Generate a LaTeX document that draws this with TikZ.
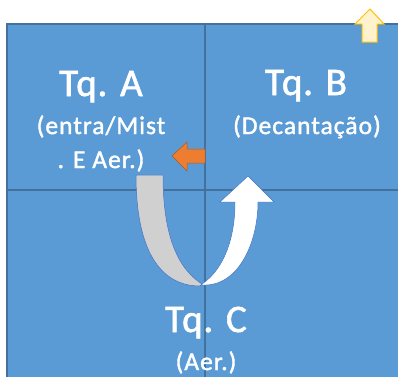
\documentclass[tikz,border=0pt]{standalone}
\usepackage{fontspec}
\setmainfont{Carlito}[FakeBold=1.5]
\usetikzlibrary{positioning}
\definecolor{tankblue}{RGB}{91,155,213}
\definecolor{tankline}{RGB}{65,113,156}
\definecolor{flowline}{RGB}{68,114,196}
\definecolor{orangearr}{RGB}{237,125,49}
\definecolor{orangeline}{RGB}{174,90,33}
\definecolor{yellowarr}{RGB}{255,242,204}
\definecolor{yellowline}{RGB}{255,192,0}
\definecolor{grayband}{RGB}{208,208,208}
\begin{document}
\begin{tikzpicture}[x=1pt, y=-1pt,
  cell/.style={draw=tankline, fill=tankblue, line width=1.3pt},
  title/.style={text=white, anchor=base, inner sep=0pt,
                font=\addfontfeature{LetterSpace=2}\fontsize{39}{44}\selectfont},
  sub/.style={text=white, anchor=base, inner sep=0pt, align=center,
              font=\addfontfeature{LetterSpace=4}\fontsize{25.5}{34}\selectfont},
  band/.style={draw=flowline, line width=0.5pt},
]
\useasboundingbox (0,0) rectangle (398,376);
\clip (0,0) rectangle (398,376);
% tank cells
\draw[cell] (7,24) rectangle (205,190);
\draw[cell] (205,24) rectangle (420,190);
\draw[cell] (7,190) rectangle (205,400);
\draw[cell] (205,190) rectangle (420,400);
% labels
\node[title] (tqA) at (101,96) {Tq. A};
\node[sub] (subA) at (101,168) {(entra/Mist\\. E Aer.)};
\node[title] (tqB) at (306,95) {Tq. B};
\node[sub] (subB) at (307,134) {(Decantação)};
\node[title] (tqC) at (206,332) {Tq. C};
\node[sub] (subC) at (206,370) {(Aer.)};
% flow A -> C -> B
\draw[band, fill=grayband] (136,175) -- (163,175)
  .. controls (163,240) and (180,270) .. (202,284) -- (200,286)
  .. controls (160,286) and (136,250) .. (136,175) -- cycle;
\draw[band, fill=white] (202,285)
  .. controls (240,287) and (258,240) .. (258,202) -- (274,202)
  -- (248,176) -- (220,202) -- (235,202)
  .. controls (235,245) and (220,272) .. (202,284) -- cycle;
% return B -> A
\draw[draw=orangeline, fill=orangearr, line width=0.5pt]
  (205,149) -- (187,149) -- (187,142) -- (172,156) -- (187,171)
  -- (187,163) -- (205,163) -- cycle;
% outlet
\draw[draw=yellowline, fill=yellowarr, line width=1pt]
  (362,42) -- (362,24) -- (355,24) -- (370,9) -- (384,24)
  -- (377,24) -- (377,42) -- cycle;
\end{tikzpicture}
\end{document}
